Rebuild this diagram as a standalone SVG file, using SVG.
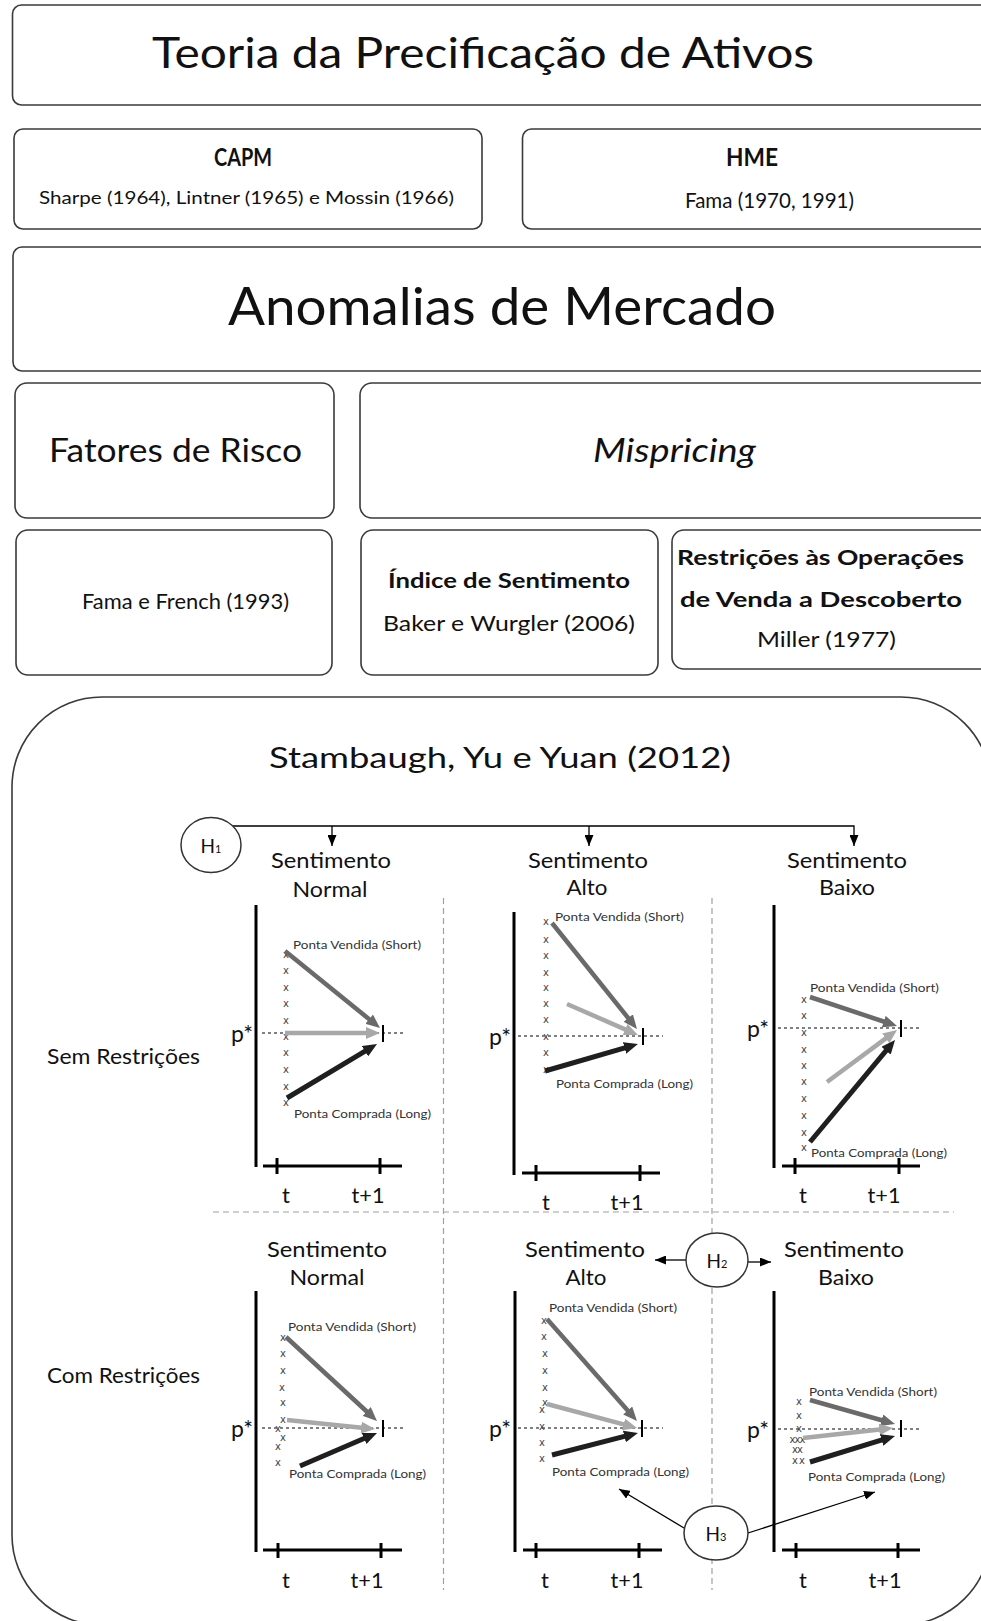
<svg xmlns="http://www.w3.org/2000/svg" width="981" height="1621" viewBox="0 0 981 1621">
<style>
.box{fill:#fff;stroke:#3a3a3a;stroke-width:1.6}
.tx{font-family:Lato,"Open Sans","Liberation Sans",sans-serif;fill:#111}
.b{font-weight:bold}
.it{font-style:italic}
.axis{stroke:#000;stroke-width:3;fill:none}
.dot{stroke:#808080;stroke-width:2;stroke-dasharray:3 3;fill:none}
.sep{stroke:#a0a0a0;stroke-width:1.2;stroke-dasharray:6 4;fill:none}
.xm{font-family:"DejaVu Sans",sans-serif;font-size:10px;fill:#444;text-anchor:middle}
.sm{font-family:Lato,"Open Sans",sans-serif;font-size:10.5px;fill:#333}
.sh{stroke:#6a6a6a;stroke-width:4.5;fill:none;marker-end:url(#mS)}
.lg{stroke:#a8a8a8;stroke-width:4.5;fill:none;marker-end:url(#mL)}
.bk{stroke:#1f1f1f;stroke-width:5;fill:none;marker-end:url(#mB)}
.con{stroke:#000;stroke-width:1.3;fill:none;marker-end:url(#mC)}
.hc{fill:#fff;stroke:#333;stroke-width:1.5}
.mid{text-anchor:middle}
</style>
<defs>
<marker id="mS" markerUnits="userSpaceOnUse" markerWidth="14" markerHeight="12" refX="3" refY="6" orient="auto"><path d="M0,0 L14,6 L0,12 z" fill="#6a6a6a"/></marker>
<marker id="mL" markerUnits="userSpaceOnUse" markerWidth="14" markerHeight="12" refX="3" refY="6" orient="auto"><path d="M0,0 L14,6 L0,12 z" fill="#a8a8a8"/></marker>
<marker id="mB" markerUnits="userSpaceOnUse" markerWidth="14" markerHeight="12" refX="3" refY="6" orient="auto"><path d="M0,0 L14,6 L0,12 z" fill="#1f1f1f"/></marker>
<marker id="mC" markerUnits="userSpaceOnUse" markerWidth="11" markerHeight="9" refX="11" refY="4.5" orient="auto"><path d="M0,0 L11,4.5 L0,9 z" fill="#000"/></marker>
</defs>

<g id="teoria"><rect class="box" x="12.5" y="5" width="1000" height="100" rx="9"/>
<text class="tx" x="152" y="68" font-size="43" textLength="662" lengthAdjust="spacingAndGlyphs">Teoria da Precificação de Ativos</text></g>

<g id="capm"><rect class="box" x="14" y="129" width="468" height="100" rx="9"/>
<text class="tx b" x="214" y="166" font-size="24" textLength="58" lengthAdjust="spacingAndGlyphs">CAPM</text>
<text class="tx" x="39" y="204" font-size="18" textLength="415" lengthAdjust="spacingAndGlyphs">Sharpe (1964), Lintner (1965) e Mossin (1966)</text></g>

<g id="hme"><rect class="box" x="522.5" y="129" width="480" height="100" rx="9"/>
<text class="tx b" x="726" y="166" font-size="24" textLength="52" lengthAdjust="spacingAndGlyphs">HME</text>
<text class="tx" x="685" y="208" font-size="21" textLength="169" lengthAdjust="spacingAndGlyphs">Fama (1970, 1991)</text></g>

<g id="anomalias"><rect class="box" x="13" y="247" width="1000" height="124" rx="9"/>
<text class="tx" x="228" y="325" font-size="52" textLength="548" lengthAdjust="spacingAndGlyphs">Anomalias de Mercado</text></g>

<g id="fatores"><rect class="box" x="15" y="383" width="319" height="135" rx="12"/>
<text class="tx" x="49" y="462" font-size="33" textLength="253" lengthAdjust="spacingAndGlyphs">Fatores de Risco</text></g>

<g id="mispricing"><rect class="box" x="360" y="383" width="660" height="135" rx="12"/>
<text class="tx it" x="593" y="462" font-size="33" textLength="163" lengthAdjust="spacingAndGlyphs">Mispricing</text></g>

<g id="famafrench"><rect class="box" x="16" y="530" width="316" height="145" rx="12"/>
<text class="tx" x="82" y="609" font-size="21" textLength="207" lengthAdjust="spacingAndGlyphs">Fama e French (1993)</text></g>

<g id="sentimento"><rect class="box" x="361" y="530" width="297" height="145" rx="12"/>
<text class="tx b" x="388" y="588" font-size="21" textLength="242" lengthAdjust="spacingAndGlyphs">Índice de Sentimento</text>
<text class="tx" x="383" y="631" font-size="22" textLength="252" lengthAdjust="spacingAndGlyphs">Baker e Wurgler (2006)</text></g>

<g id="restricoes"><rect class="box" x="672" y="530" width="340" height="139" rx="12"/>
<text class="tx b" x="677" y="565" font-size="21" textLength="287" lengthAdjust="spacingAndGlyphs">Restrições às Operações</text>
<text class="tx b" x="680" y="607" font-size="21" textLength="282" lengthAdjust="spacingAndGlyphs">de Venda a Descoberto</text>
<text class="tx" x="757" y="647" font-size="21" textLength="139" lengthAdjust="spacingAndGlyphs">Miller (1977)</text></g>

<g id="stambaugh"><rect class="box" x="12" y="697" width="979" height="928" rx="90"/>
<text class="tx" x="269" y="768" font-size="29" textLength="462" lengthAdjust="spacingAndGlyphs">Stambaugh, Yu e Yuan (2012)</text></g>

<g id="separators">
<line class="sep" x1="443.5" y1="898" x2="443.5" y2="1590"/>
<line class="sep" x1="712" y1="898" x2="712" y2="1590"/>
<line class="sep" x1="213" y1="1212" x2="954" y2="1212"/>
</g>

<g id="labels">
<text class="tx mid" x="331" y="868" font-size="21" textLength="120" lengthAdjust="spacingAndGlyphs">Sentimento</text>
<text class="tx mid" x="330" y="897" font-size="21" textLength="75" lengthAdjust="spacingAndGlyphs">Normal</text>
<text class="tx mid" x="588" y="868" font-size="21" textLength="120" lengthAdjust="spacingAndGlyphs">Sentimento</text>
<text class="tx mid" x="587" y="895" font-size="21" textLength="41" lengthAdjust="spacingAndGlyphs">Alto</text>
<text class="tx mid" x="847" y="868" font-size="21" textLength="120" lengthAdjust="spacingAndGlyphs">Sentimento</text>
<text class="tx mid" x="847" y="895" font-size="21" textLength="56" lengthAdjust="spacingAndGlyphs">Baixo</text>
<text class="tx mid" x="327" y="1257" font-size="21" textLength="120" lengthAdjust="spacingAndGlyphs">Sentimento</text>
<text class="tx mid" x="327" y="1285" font-size="21" textLength="75" lengthAdjust="spacingAndGlyphs">Normal</text>
<text class="tx mid" x="585" y="1257" font-size="21" textLength="120" lengthAdjust="spacingAndGlyphs">Sentimento</text>
<text class="tx mid" x="586" y="1285" font-size="21" textLength="41" lengthAdjust="spacingAndGlyphs">Alto</text>
<text class="tx mid" x="844" y="1257" font-size="21" textLength="120" lengthAdjust="spacingAndGlyphs">Sentimento</text>
<text class="tx mid" x="846" y="1285" font-size="21" textLength="56" lengthAdjust="spacingAndGlyphs">Baixo</text>
<text class="tx" x="47" y="1064" font-size="21" textLength="153" lengthAdjust="spacingAndGlyphs">Sem Restrições</text>
<text class="tx" x="47" y="1383" font-size="21" textLength="153" lengthAdjust="spacingAndGlyphs">Com Restrições</text>
</g>

<g id="chart-r1c1">
<line class="dot" x1="262" y1="1033" x2="405" y2="1033"/>
<text class="tx" x="231" y="1042" font-size="23">p*</text>
<path class="axis" d="M256,905 V1167 M263,1166 H402 M277,1158 V1174 M380,1158 V1174"/>
<line x1="383" y1="1025" x2="383" y2="1042" stroke="#000" stroke-width="2"/>
<text class="tx mid" x="286" y="1203" font-size="22">t</text>
<text class="tx mid" x="368" y="1203" font-size="22" textLength="33" lengthAdjust="spacingAndGlyphs">t+1</text>
<text class="xm"><tspan x="286" y="958">x</tspan><tspan x="286" y="974">x</tspan><tspan x="286" y="991">x</tspan><tspan x="286" y="1007">x</tspan><tspan x="286" y="1024">x</tspan><tspan x="286" y="1040">x</tspan><tspan x="286" y="1056">x</tspan><tspan x="286" y="1073">x</tspan><tspan x="286" y="1090">x</tspan><tspan x="286" y="1106">x</tspan></text>
<line class="sh" x1="285" y1="951" x2="371.5" y2="1021.1"/>
<line class="lg" x1="285" y1="1033" x2="369" y2="1033"/>
<line class="bk" x1="287" y1="1098" x2="367.6" y2="1049.7"/>
<text class="sm" x="293" y="949" textLength="128" lengthAdjust="spacingAndGlyphs">Ponta Vendida (Short)</text>
<text class="sm" x="294" y="1118" textLength="137" lengthAdjust="spacingAndGlyphs">Ponta Comprada (Long)</text>
</g>

<g id="chart-r1c2">
<line class="dot" x1="518" y1="1036" x2="663" y2="1036"/>
<text class="tx" x="489" y="1045" font-size="23">p*</text>
<path class="axis" d="M514,912 V1175 M522,1173 H660 M536,1165 V1181 M640,1165 V1181"/>
<line x1="643" y1="1028" x2="643" y2="1045" stroke="#000" stroke-width="2"/>
<text class="tx mid" x="546" y="1210" font-size="22">t</text>
<text class="tx mid" x="627" y="1210" font-size="22" textLength="33" lengthAdjust="spacingAndGlyphs">t+1</text>
<text class="xm"><tspan x="546" y="925">x</tspan><tspan x="546" y="943">x</tspan><tspan x="546" y="959">x</tspan><tspan x="546" y="976">x</tspan><tspan x="546" y="991">x</tspan><tspan x="546" y="1007">x</tspan><tspan x="546" y="1023">x</tspan><tspan x="546" y="1040">x</tspan><tspan x="546" y="1056">x</tspan><tspan x="546" y="1073">x</tspan></text>
<line class="sh" x1="552" y1="923" x2="630.1" y2="1020.4"/>
<line class="lg" x1="567" y1="1004" x2="627.9" y2="1030.6"/>
<line class="bk" x1="545" y1="1071" x2="627.4" y2="1047.1"/>
<text class="sm" x="555" y="921" textLength="129" lengthAdjust="spacingAndGlyphs">Ponta Vendida (Short)</text>
<text class="sm" x="556" y="1088" textLength="137" lengthAdjust="spacingAndGlyphs">Ponta Comprada (Long)</text>
</g>

<g id="chart-r1c3">
<line class="dot" x1="778" y1="1028" x2="922" y2="1028"/>
<text class="tx" x="747" y="1037" font-size="23">p*</text>
<path class="axis" d="M774,905 V1168 M782,1166 H920 M795,1158 V1174 M899,1158 V1174"/>
<line x1="901" y1="1020" x2="901" y2="1037" stroke="#000" stroke-width="2"/>
<text class="tx mid" x="803" y="1203" font-size="22">t</text>
<text class="tx mid" x="884" y="1203" font-size="22" textLength="33" lengthAdjust="spacingAndGlyphs">t+1</text>
<text class="xm"><tspan x="804" y="1003">x</tspan><tspan x="804" y="1019">x</tspan><tspan x="804" y="1036">x</tspan><tspan x="804" y="1053">x</tspan><tspan x="804" y="1069">x</tspan><tspan x="804" y="1085">x</tspan><tspan x="804" y="1102">x</tspan><tspan x="804" y="1119">x</tspan><tspan x="804" y="1136">x</tspan><tspan x="804" y="1151">x</tspan></text>
<line class="sh" x1="810" y1="997" x2="886.6" y2="1022.5"/>
<line class="lg" x1="827" y1="1082" x2="888.2" y2="1036.6"/>
<line class="bk" x1="810" y1="1142" x2="888" y2="1048.4"/>
<text class="sm" x="810" y="992" textLength="129" lengthAdjust="spacingAndGlyphs">Ponta Vendida (Short)</text>
<text class="sm" x="811" y="1157" textLength="136" lengthAdjust="spacingAndGlyphs">Ponta Comprada (Long)</text>
</g>

<g id="chart-r2c1">
<line class="dot" x1="262" y1="1428" x2="405" y2="1428"/>
<text class="tx" x="231" y="1437" font-size="23">p*</text>
<path class="axis" d="M256,1291 V1552 M263,1550 H402 M278,1543 V1558 M381,1543 V1558"/>
<line x1="383" y1="1420" x2="383" y2="1437" stroke="#000" stroke-width="2"/>
<text class="tx mid" x="286" y="1588" font-size="22">t</text>
<text class="tx mid" x="367" y="1588" font-size="22" textLength="33" lengthAdjust="spacingAndGlyphs">t+1</text>
<text class="xm"><tspan x="283" y="1341">x</tspan><tspan x="283" y="1357">x</tspan><tspan x="283" y="1374">x</tspan><tspan x="282" y="1391">x</tspan><tspan x="283" y="1406">x</tspan><tspan x="283" y="1423">x</tspan><tspan x="278" y="1432">x</tspan><tspan x="283" y="1441">x</tspan><tspan x="278" y="1450">x</tspan><tspan x="278" y="1466">x</tspan></text>
<line class="sh" x1="286" y1="1337" x2="368.9" y2="1413.5"/>
<line class="lg" x1="287" y1="1420" x2="364.1" y2="1427.9"/>
<line class="bk" x1="300" y1="1466" x2="366.9" y2="1437.3"/>
<text class="sm" x="288" y="1331" textLength="128" lengthAdjust="spacingAndGlyphs">Ponta Vendida (Short)</text>
<text class="sm" x="289" y="1478" textLength="137" lengthAdjust="spacingAndGlyphs">Ponta Comprada (Long)</text>
</g>

<g id="chart-r2c2">
<line class="dot" x1="518" y1="1428" x2="663" y2="1428"/>
<text class="tx" x="489" y="1437" font-size="23">p*</text>
<path class="axis" d="M515,1291 V1552 M523,1550 H662 M536,1543 V1558 M639,1543 V1558"/>
<line x1="642" y1="1420" x2="642" y2="1437" stroke="#000" stroke-width="2"/>
<text class="tx mid" x="545" y="1588" font-size="22">t</text>
<text class="tx mid" x="627" y="1588" font-size="22" textLength="33" lengthAdjust="spacingAndGlyphs">t+1</text>
<text class="xm"><tspan x="544" y="1324">x</tspan><tspan x="544" y="1340">x</tspan><tspan x="545" y="1357">x</tspan><tspan x="545" y="1374">x</tspan><tspan x="545" y="1391">x</tspan><tspan x="545" y="1406">x</tspan><tspan x="542" y="1413">x</tspan><tspan x="542" y="1430">x</tspan><tspan x="542" y="1446">x</tspan><tspan x="542" y="1462">x</tspan></text>
<line class="sh" x1="547" y1="1319" x2="629.7" y2="1412.7"/>
<line class="lg" x1="547" y1="1404" x2="626.4" y2="1425.2"/>
<line class="bk" x1="552" y1="1455" x2="627.3" y2="1435.7"/>
<text class="sm" x="549" y="1312" textLength="128" lengthAdjust="spacingAndGlyphs">Ponta Vendida (Short)</text>
<text class="sm" x="552" y="1476" textLength="137" lengthAdjust="spacingAndGlyphs">Ponta Comprada (Long)</text>
</g>

<g id="chart-r2c3">
<line class="dot" x1="778" y1="1429" x2="922" y2="1429"/>
<text class="tx" x="747" y="1438" font-size="23">p*</text>
<path class="axis" d="M774,1291 V1552 M782,1550 H920 M796,1543 V1558 M898,1543 V1558"/>
<line x1="901" y1="1420" x2="901" y2="1437" stroke="#000" stroke-width="2"/>
<text class="tx mid" x="803" y="1588" font-size="22">t</text>
<text class="tx mid" x="885" y="1588" font-size="22" textLength="33" lengthAdjust="spacingAndGlyphs">t+1</text>
<text class="xm" font-size="9.5"><tspan x="799" y="1405">x</tspan><tspan x="799" y="1419">x</tspan><tspan x="799" y="1432">x</tspan><tspan x="797" y="1443" letter-spacing="-1">xxx</tspan><tspan x="797" y="1453" letter-spacing="-1">xx</tspan><tspan x="799" y="1464" letter-spacing="1">xx</tspan></text>
<line class="sh" x1="810" y1="1400" x2="884.4" y2="1421"/>
<line class="lg" x1="803" y1="1438" x2="882.1" y2="1429.2"/>
<line class="bk" x1="810" y1="1462" x2="884.5" y2="1439.2"/>
<text class="sm" x="809" y="1396" textLength="128" lengthAdjust="spacingAndGlyphs">Ponta Vendida (Short)</text>
<text class="sm" x="808" y="1481" textLength="137" lengthAdjust="spacingAndGlyphs">Ponta Comprada (Long)</text>
</g>

<g id="connectors">
<path class="con" d="M233,826 H854 V846"/>
<line class="con" x1="332" y1="826" x2="332" y2="846"/>
<line class="con" x1="589" y1="826" x2="589" y2="846"/>
<line class="con" x1="686" y1="1260" x2="655" y2="1260"/>
<line class="con" x1="748" y1="1262" x2="771" y2="1262"/>
<line class="con" x1="684" y1="1528" x2="619" y2="1489"/>
<line class="con" x1="748" y1="1533" x2="875" y2="1492"/>
</g>

<g id="h1"><ellipse class="hc" cx="211" cy="845" rx="30" ry="27.5"/>
<text class="tx mid" x="211" y="853" font-size="19">H<tspan font-size="11">1</tspan></text></g>
<g id="h2"><ellipse class="hc" cx="717" cy="1260" rx="31" ry="27"/>
<text class="tx mid" x="717" y="1268" font-size="19">H<tspan font-size="11">2</tspan></text></g>
<g id="h3"><ellipse class="hc" cx="716" cy="1533" rx="32" ry="27"/>
<text class="tx mid" x="716" y="1541" font-size="19">H<tspan font-size="11">3</tspan></text></g>
</svg>
